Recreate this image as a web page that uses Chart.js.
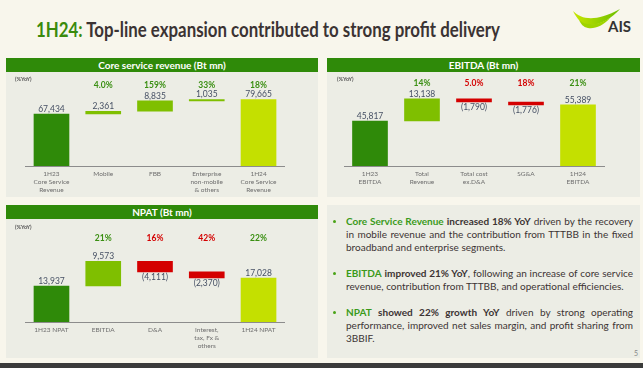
<!DOCTYPE html>
<html>
<head>
<meta charset="utf-8">
<script src="https://cdn.jsdelivr.net/npm/chart.js@4.4.1/dist/chart.umd.min.js"></script>
<style>
  html, body { margin: 0; padding: 0; }
  body { width: 643px; height: 368px; background: #f8f6ec; position: relative; overflow: hidden; font-family: Lato, "Open Sans", sans-serif; }
  .title { position: absolute; left: 36px; top: 17px; font-size: 20px; font-weight: bold; color: #3b3333; white-space: nowrap; transform-origin: left center; }
  .title .g { color: #3a8a0c; }
  .panel { position: absolute; background: #ecede5; }
  .head { position: absolute; background: #2f8a09; color: #fff; font-weight: bold; font-size: 10px; text-align: center; line-height: 14px; }
  .cv { position: absolute; }
  .line { position: absolute; left: 346px; font-size: 10px; color: #3c3434; white-space: nowrap; transform-origin: left center; line-height: 12px; }
  .line b { font-weight: bold; }
  .line .g { color: #3a9a1a; font-weight: bold; }
  .dot { position: absolute; left: 333px; width: 3px; height: 3px; border-radius: 50%; background: #4aa316; }
  .strip { position: absolute; left: 0; top: 363px; width: 643px; height: 5px; background: #3b3b3b; }
  .pg { position: absolute; left: 634px; top: 349px; font-size: 7px; color: #888; }
</style>
</head>
<body>
<div class="title" id="title"><span class="g">1H24:</span> Top-line expansion contributed to strong profit delivery</div>

<svg style="position:absolute;left:570px;top:6px" width="70" height="30" viewBox="0 0 70 30">
  <defs>
    <linearGradient id="sw" x1="0" y1="0" x2="1" y2="0">
      <stop offset="0" stop-color="#c8e600"/>
      <stop offset="1" stop-color="#6cbf00"/>
    </linearGradient>
  </defs>
  <path d="M3 5 C12 14, 26 16, 50 3 C42 12, 31 19, 20 19 C12 19, 7 13, 3 5 Z" fill="url(#sw)"/>
  <path d="M9 14 C16 20, 27 20, 40 12 C33 20, 25 23, 18 22 C13 21, 11 18, 9 14 Z" fill="#9fd400"/>
  <text x="38" y="26" font-family="Lato, sans-serif" font-weight="bold" font-size="15" fill="#333">AIS</text>
</svg>

<div class="panel" style="left:6px;top:59px;width:312px;height:138px"></div>
<div class="head" style="left:6px;top:58px;width:312px;height:14px">Core service revenue (Bt mn)</div>
<canvas class="cv" id="c1" width="312" height="125" style="left:6px;top:72px"></canvas>

<div class="panel" style="left:327px;top:59px;width:313px;height:138px"></div>
<div class="head" style="left:327px;top:58px;width:313px;height:14px">EBITDA (Bt mn)</div>
<canvas class="cv" id="c2" width="313" height="125" style="left:327px;top:72px"></canvas>

<div class="panel" style="left:6px;top:205px;width:312px;height:153px"></div>
<div class="head" style="left:6px;top:205px;width:312px;height:14px">NPAT (Bt mn)</div>
<canvas class="cv" id="c3" width="312" height="139" style="left:6px;top:219px"></canvas>

<div class="panel" style="left:327px;top:205px;width:313px;height:153px"></div>
<div class="dot" style="top:220px"></div>
<div class="line" data-j="1" style="top:215px"><span class="g">Core Service Revenue</span> <b>increased 18% YoY</b> driven by the recovery</div>
<div class="line" data-j="1" style="top:228px">in mobile revenue and the contribution from TTTBB in the fixed</div>
<div class="line" style="top:241px">broadband and enterprise segments.</div>
<div class="dot" style="top:272px"></div>
<div class="line" data-j="1" style="top:267px"><span class="g">EBITDA</span> <b>improved 21% YoY</b>, following an increase of core service</div>
<div class="line" style="top:280px">revenue, contribution from TTTBB, and operational efficiencies.</div>
<div class="dot" style="top:311px"></div>
<div class="line" data-j="1" style="top:306px"><span class="g">NPAT</span> <b>showed 22% growth YoY</b> driven by strong operating</div>
<div class="line" data-j="1" style="top:319px">performance, improved net sales margin, and profit sharing from</div>
<div class="line" style="top:332px">3BBIF.</div>
<div class="pg">5</div>
<div class="strip"></div>

<script>
// 图表数据
const coreLabels = [['1H23', 'Core Service', 'Revenue'], 'Mobile', 'FBB', ['Enterprise', 'non-mobile', '& others'], ['1H24', 'Core Service', 'Revenue']];
const coreValues = [67434, 2361, 8835, 1035, 79665];
const corePct = ['', '4.0%', '159%', '33%', '18%'];

const ebitdaLabels = [['1H23', 'EBITDA'], ['Total', 'Revenue'], ['Total cost', 'ex.D&A'], 'SG&A', ['1H24', 'EBITDA']];
const ebitdaValues = [45817, 13138, -1790, -1776, 55389];
const ebitdaPct = ['', '14%', '5.0%', '18%', '21%'];

const npatLabels = ['1H23 NPAT', 'EBITDA', 'D&A', ['Interest,', 'tax, Fx &', 'others'], '1H24 NPAT'];
const npatValues = [13937, 9573, -4111, -2370, 17028];
const npatPct = ['', '21%', '16%', '42%', '22%'];

const GREEN_DARK = '#2f8a09';
const GREEN_MID = '#7fbf00';
const LIME = '#c4e000';
const RED = '#d40000';
const FONT = 'Lato, "Open Sans", sans-serif';

// 瀑布图的起止区间
function buildRanges(values, axisMin) {
    let run = 0;
    return values.map((v, i) => {
        if (i === 0 || i === values.length - 1) {
            run = v;
            return [axisMin, v];
        }
        const r = [run, run + v];
        run += v;
        return r;
    });
}

function barColors(values) {
    return values.map((v, i) => {
        if (i === 0) return GREEN_DARK;
        if (i === values.length - 1) return LIME;
        return v < 0 ? RED : GREEN_MID;
    });
}

function fmt(v) {
    const s = Math.abs(v).toLocaleString('en-US');
    return v < 0 ? '(' + s + ')' : s;
}

// 画数值和百分比标签
const waterfallLabels = {
    id: 'waterfallLabels',
    afterDatasetsDraw(chart, args, opts) {
        const ctx = chart.ctx;
        const meta = chart.getDatasetMeta(0);
        ctx.save();
        ctx.font = 'bold 5.5px ' + FONT;
        ctx.fillStyle = '#555';
        ctx.textAlign = 'left';
        ctx.textBaseline = 'middle';
        ctx.fillText('(%YoY)', opts.yoyX, opts.yoyY);

        ctx.textAlign = 'center';
        meta.data.forEach((bar, i) => {
            const v = opts.values[i];
            const top = Math.min(bar.y, bar.base);
            const bottom = Math.max(bar.y, bar.base);
            if (opts.pct[i]) {
                ctx.font = 'bold 8.5px ' + FONT;
                ctx.fillStyle = v < 0 ? RED : '#3a8f12';
                ctx.fillText(opts.pct[i], bar.x, opts.pctY);
            }
            ctx.font = '8.5px ' + FONT;
            ctx.fillStyle = '#465064';
            if (v < 0) {
                ctx.fillText(fmt(v), bar.x, bottom + 5.5);
            } else {
                ctx.fillText(fmt(v), bar.x, top - 5);
            }
        });
        ctx.restore();
    }
};

function makeChart(id, labels, values, pct, yMin, yMax, axisH, pad, pctY, yoy) {
    const ctx = document.getElementById(id).getContext('2d');
    return new Chart(ctx, {
        type: 'bar',
        data: {
            labels: labels,
            datasets: [{
                data: buildRanges(values, yMin),
                backgroundColor: barColors(values),
                borderWidth: 0,
                borderSkipped: false,
                barThickness: 35
            }]
        },
        options: {
            responsive: false,
            animation: false,
            layout: { padding: { left: pad[0], right: pad[1], top: 8, bottom: 0 } },
            plugins: {
                legend: { display: false },
                tooltip: { enabled: false },
                waterfallLabels: { values: values, pct: pct, pctY: pctY, yoyX: yoy[0], yoyY: yoy[1] }
            },
            scales: {
                x: {
                    grid: { display: false, drawTicks: false },
                    border: { color: '#8c8c8c', width: 1 },
                    ticks: {
                        color: '#6e6e6e',
                        font: { family: FONT, size: 6.5, lineHeight: 1.25 },
                        padding: 4,
                        maxRotation: 0,
                        autoSkip: false
                    },
                    afterFit: (s) => { s.height = axisH; }
                },
                y: { display: false, min: yMin, max: yMax }
            }
        },
        plugins: [waterfallLabels]
    });
}

makeChart('c1', coreLabels, coreValues, corePct, 23000, 96500, 31, [19.6, 33.6], 13, [9, 7]);
makeChart('c2', ebitdaLabels, ebitdaValues, ebitdaPct, 19000, 70250, 31, [17, 36], 11, [10, 7]);
makeChart('c3', npatLabels, npatValues, npatPct, 0, 36780, 36, [19.6, 33.6], 19, [9, 8]);

// 文字对齐：两端对齐，过宽时压缩
function fitLine(el, target, justify) {
    el.style.width = 'auto';
    const w = el.getBoundingClientRect().width;
    if (w > target) {
        el.style.transform = 'scaleX(' + (target / w) + ')';
    } else if (justify) {
        const gaps = (el.textContent.match(/ /g) || []).length;
        if (gaps > 0) el.style.wordSpacing = ((target - w) / gaps) + 'px';
    }
}
document.querySelectorAll('.line').forEach(el => fitLine(el, 287, el.dataset.j === '1'));
fitLine(document.getElementById('title'), 464, false);
</script>
</body>
</html>
